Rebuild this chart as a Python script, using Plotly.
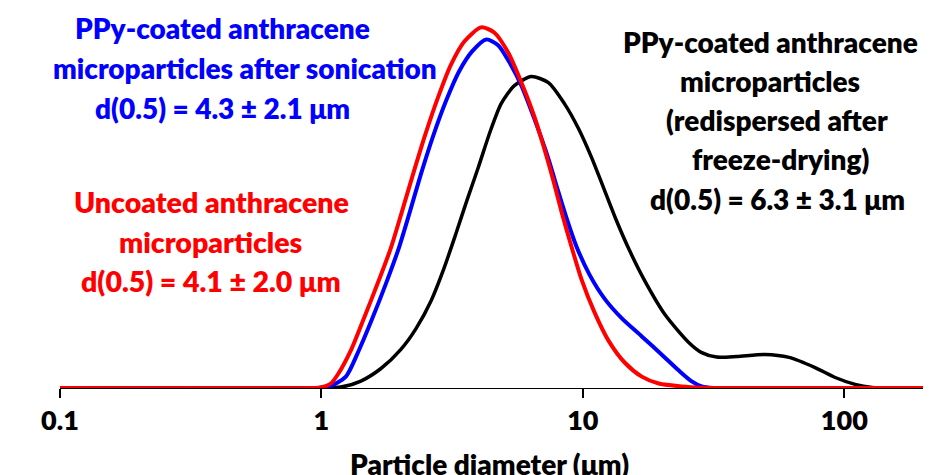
import plotly.graph_objects as go

# Particle size distributions (volume %, read-off units) vs particle diameter (µm)
red_d = [0.1, 0.90, 0.99, 1.086, 1.155, 1.30, 1.453, 1.64, 1.845, 2.032, 2.24, 2.49, 2.79,
         3.13, 3.52, 4.08, 4.58, 5.18, 5.82, 6.52, 7.12, 7.71, 8.28, 9.04, 9.88, 11.08,
         12.53, 14.44, 16.8, 19.5, 23.9, 28.5, 34.0, 200]
red_v = [0, 0, 0.02, 0.15, 0.45, 1.28, 2.32, 3.48, 4.68, 5.88, 7.12, 8.42, 9.68,
         10.78, 11.55, 12.02, 11.85, 11.18, 10.18, 9.05, 7.98, 6.92, 5.88, 4.72, 3.62, 2.52,
         1.58, 0.85, 0.38, 0.15, 0.05, 0.01, 0, 0]

blue_d = [0.1, 0.97, 1.086, 1.24, 1.39, 1.559, 1.765, 1.98, 2.18, 2.40, 2.67, 3.00, 3.36,
          3.77, 4.27, 4.75, 5.32, 5.82, 6.52, 7.25, 7.99, 8.65, 9.45, 10.6, 12.1, 14.1,
          16.8, 20.0, 23.3, 26.1, 28.5, 31.7, 200]
blue_v = [0, 0, 0.07, 0.38, 1.25, 2.28, 3.48, 4.68, 5.88, 7.12, 8.38, 9.58, 10.55,
          11.22, 11.62, 11.42, 10.75, 10.08, 8.98, 7.85, 6.65, 5.68, 4.72, 3.78, 2.98, 2.32,
          1.72, 1.12, 0.58, 0.22, 0.05, 0, 0]

black_d = [0.1, 0.99, 1.186, 1.415, 1.689, 2.01, 2.30, 2.63, 2.94, 3.27, 3.61, 3.98, 4.42,
           4.87, 5.47, 6.35, 7.38, 8.50, 9.62, 10.8, 11.99, 13.34, 15.09, 17.23, 20.6, 25.4,
           28.5, 32.5, 38.8, 49.7, 61.5, 77.3, 92.3, 110, 128, 153, 200]
black_v = [0, 0, 0.03, 0.23, 0.65, 1.28, 1.98, 2.92, 3.98, 5.15, 6.28, 7.35, 8.55,
           9.48, 10.08, 10.38, 10.18, 9.48, 8.65, 7.68, 6.68, 5.65, 4.58, 3.58, 2.45, 1.52,
           1.18, 1.03, 1.05, 1.12, 1.02, 0.68, 0.35, 0.12, 0.02, 0, 0]

tick_vals = [0.1, 1, 10, 100]
tick_text = ["0.1", "1", "10", "100"]

blue_lines = ["PPy-coated anthracene", "microparticles after sonication", "d(0.5) = 4.3 ± 2.1 μm"]
red_lines = ["Uncoated anthracene", "microparticles", "d(0.5) = 4.1 ± 2.0 μm"]
black_lines = ["PPy-coated anthracene", "microparticles", "(redispersed after",
               "freeze-drying)", "d(0.5) = 6.3 ± 3.1 μm"]
x_title = "Particle diameter (μm)"

W, H = 940, 475
L, R, T, B = 60, 17, 13, 87
PW, PH = W - L - R, H - T - B
FONT = "Lato"
WEIGHT = 800

def px(x):
    return (x - L) / PW

def py(y):
    return (H - B - y) / PH

fig = go.Figure()
fig.add_trace(go.Scatter(x=black_d, y=black_v, mode="lines",
                         line=dict(color="black", width=3.5, shape="spline", smoothing=0.7)))
fig.add_trace(go.Scatter(x=blue_d, y=blue_v, mode="lines",
                         line=dict(color="#0000FF", width=4, shape="spline", smoothing=0.7)))
fig.add_trace(go.Scatter(x=red_d, y=red_v, mode="lines",
                         line=dict(color="#FF0000", width=4, shape="spline", smoothing=0.7)))

annos = []
def add_lines(lines, xs, ys, color, size):
    for t, x, y in zip(lines, xs, ys):
        annos.append(dict(text=t, x=px(x), y=py(y), xref="paper", yref="paper",
                          xanchor="center", yanchor="middle", showarrow=False,
                          font=dict(family=FONT, size=size, color=color, weight=WEIGHT)))

add_lines(blue_lines, [222, 245, 222], [28, 68, 108], "#0000FF", 28)
add_lines(red_lines, [211, 210, 211], [202, 242, 281], "#FF0000", 28.5)
add_lines(black_lines, [770, 770, 777, 780, 777], [42, 81, 120, 159, 199], "black", 28)
annos.append(dict(text=x_title, x=px(489), y=py(445), xref="paper", yref="paper",
                  xanchor="center", yanchor="top", showarrow=False,
                  font=dict(family=FONT, size=28, color="black", weight=WEIGHT)))

fig.update_layout(
    width=W, height=H,
    margin=dict(l=L, r=R, t=T, b=B),
    paper_bgcolor="white", plot_bgcolor="white",
    showlegend=False,
    annotations=annos,
    xaxis=dict(type="log", range=[-1, 2.301], tickvals=tick_vals, ticktext=tick_text,
               showgrid=False, zeroline=False, showline=True, linecolor="black", linewidth=1,
               ticks="outside", ticklen=9, tickwidth=1.5, tickcolor="black",
               tickfont=dict(family=FONT, size=27, color="black", weight=WEIGHT)),
    yaxis=dict(range=[0, 12.5], visible=False),
)

fig.write_html("out.html")
